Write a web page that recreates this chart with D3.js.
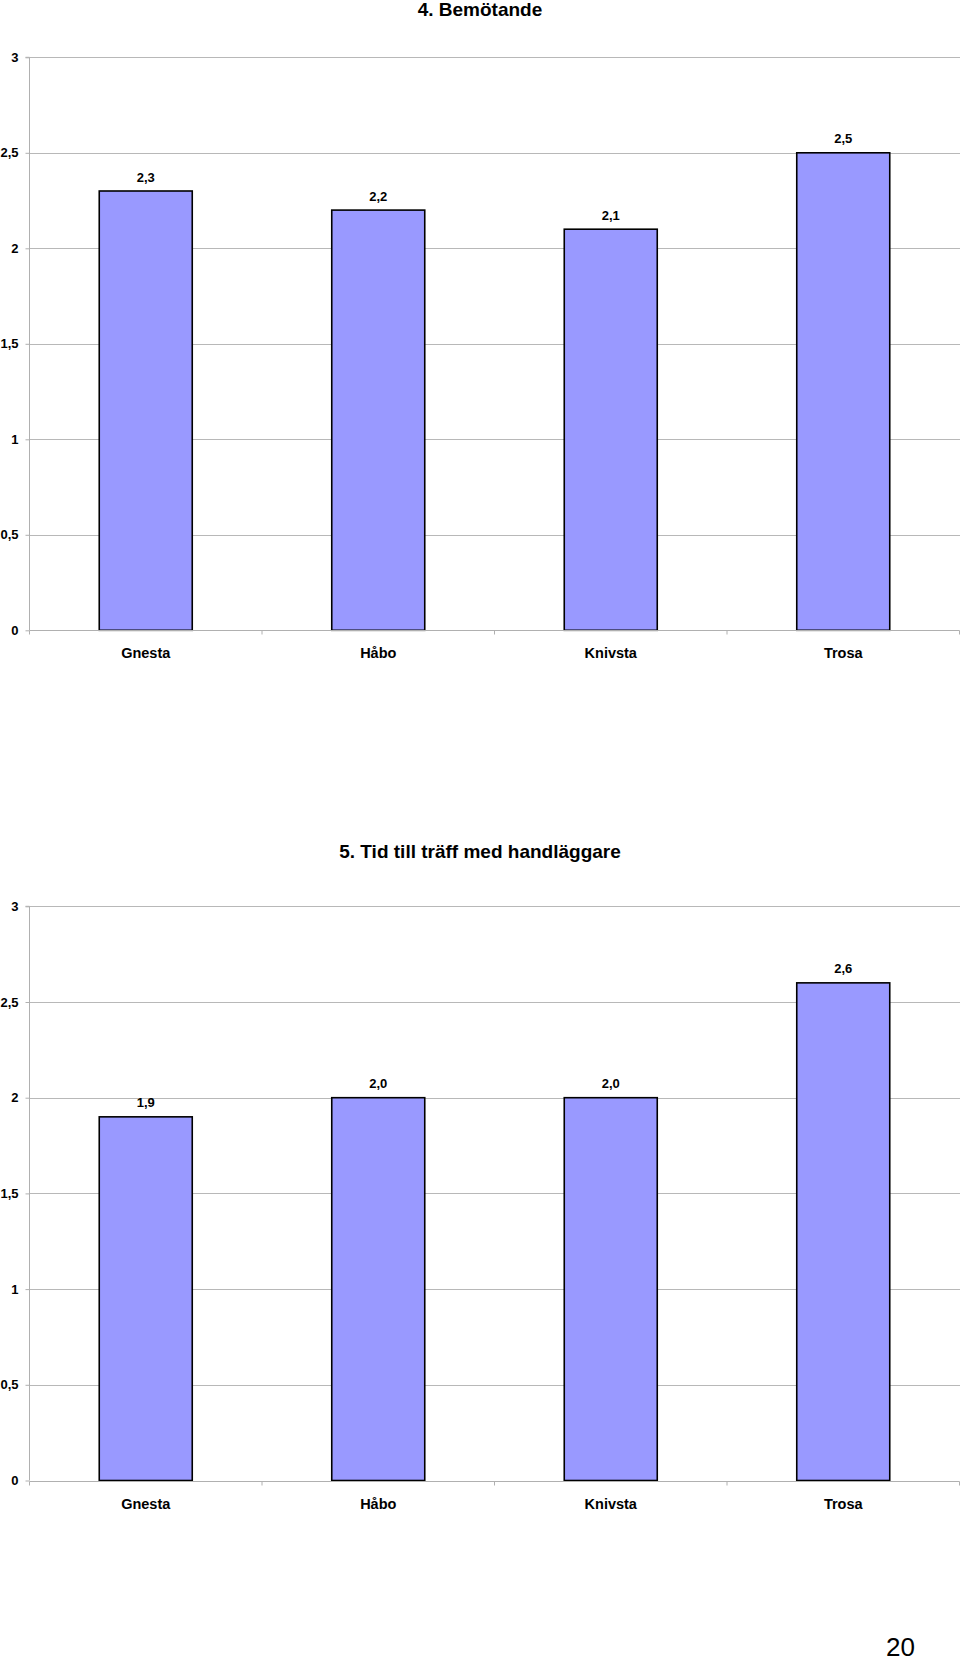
<!DOCTYPE html>
<html>
<head>
<meta charset="utf-8">
<script src="https://cdn.jsdelivr.net/npm/d3@7/dist/d3.min.js"></script>
<style>
  html, body { margin: 0; padding: 0; background: #fff; }
  svg { display: block; font-family: "Liberation Sans", Arial, sans-serif; }
</style>
</head>
<body>
<svg id="page" width="960" height="1662"></svg>
<script>
const categories = ["Gnesta", "Håbo", "Knivsta", "Trosa"];
const valuesBemotande = [2.3, 2.2, 2.1, 2.5];
const valuesTid = [1.9, 2.0, 2.0, 2.6];
const yTickValues = [0, 0.5, 1, 1.5, 2, 2.5, 3];
const titles = ["4. Bemötande", "5. Tid till träff med handläggare"];
const pageNumber = "20";

const sv = d3.formatLocale({decimal: ",", thousands: " ", grouping: [3], currency: ["", " kr"]});
const tickFmt = sv.format("~r");
const valFmt = sv.format(".1f");

const svg = d3.select("#page");

function drawChart(title, values, top, bottom, titleBaseline) {
  const g = svg.append("g");
  const x = d3.scaleBand().domain(categories).range([29.5, 959.5])
    .paddingInner(0.6).paddingOuter(0.3);
  const y = d3.scaleLinear().domain([0, 3]).range([bottom, top]);

  // gridlines
  g.selectAll("line.grid").data(yTickValues.filter(d => d > 0)).join("line")
    .attr("x1", 29.5).attr("x2", 960)
    .attr("y1", d => Math.round(y(d)) + 0.5).attr("y2", d => Math.round(y(d)) + 0.5)
    .attr("stroke", "#b8b8b8").attr("stroke-width", 1);

  // y axis
  const yAxis = d3.axisLeft(y).tickValues(yTickValues).tickFormat(tickFmt)
    .tickSize(4).tickPadding(7);
  const ya = g.append("g").attr("transform", "translate(29.5,0)").call(yAxis);
  ya.select(".domain").attr("stroke", "#b0b0b0").attr("d", `M-4,${y(3)}H0V${y(0)}`);
  ya.selectAll(".tick line").attr("stroke", "#b0b0b0");
  ya.selectAll(".tick text").attr("font-size", 13).attr("font-weight", "bold")
    .attr("fill", "#000").attr("font-family", "Liberation Sans, Arial, sans-serif");

  // bars
  g.selectAll("rect.bar").data(values).join("rect")
    .attr("x", (d, i) => x(categories[i]))
    .attr("y", d => y(d))
    .attr("width", x.bandwidth())
    .attr("height", d => y(0) - y(d))
    .attr("fill", "#9999ff").attr("stroke", "#000").attr("stroke-width", 1.6);

  // x axis
  const xa = g.append("g").attr("transform", `translate(0,${Math.round(y(0)) + 0.5})`);
  xa.append("line").attr("x1", 29.5).attr("x2", 959.5).attr("y1", 0).attr("y2", 0)
    .attr("stroke", "#b0b0b0");
  const step = x.step();
  const boundaries = d3.range(categories.length + 1).map(i => 29.5 + i * step);
  xa.selectAll("line.tk").data(boundaries).join("line")
    .attr("x1", d => d).attr("x2", d => d).attr("y1", 0).attr("y2", 4)
    .attr("stroke", "#b0b0b0");
  xa.selectAll("text.cat").data(categories).join("text")
    .attr("x", d => x(d) + x.bandwidth() / 2).attr("y", 27.5)
    .attr("text-anchor", "middle").attr("font-size", 14.5).attr("font-weight", "bold")
    .text(d => d);

  // value labels
  g.selectAll("text.val").data(values).join("text")
    .attr("x", (d, i) => x(categories[i]) + x.bandwidth() / 2)
    .attr("y", d => y(d) - 9.5)
    .attr("text-anchor", "middle").attr("font-size", 13).attr("font-weight", "bold")
    .text(d => valFmt(d));

  // title
  g.append("text").attr("x", 480).attr("y", titleBaseline)
    .attr("text-anchor", "middle").attr("font-size", 19).attr("font-weight", "bold")
    .text(title);
}

drawChart(titles[0], valuesBemotande, 57.3, 630.3, 15.5);
drawChart(titles[1], valuesTid, 906.3, 1480.5, 858);

svg.append("text").attr("x", 915).attr("y", 1656).attr("text-anchor", "end")
  .attr("font-size", 26).text(pageNumber);
</script>
</body>
</html>
